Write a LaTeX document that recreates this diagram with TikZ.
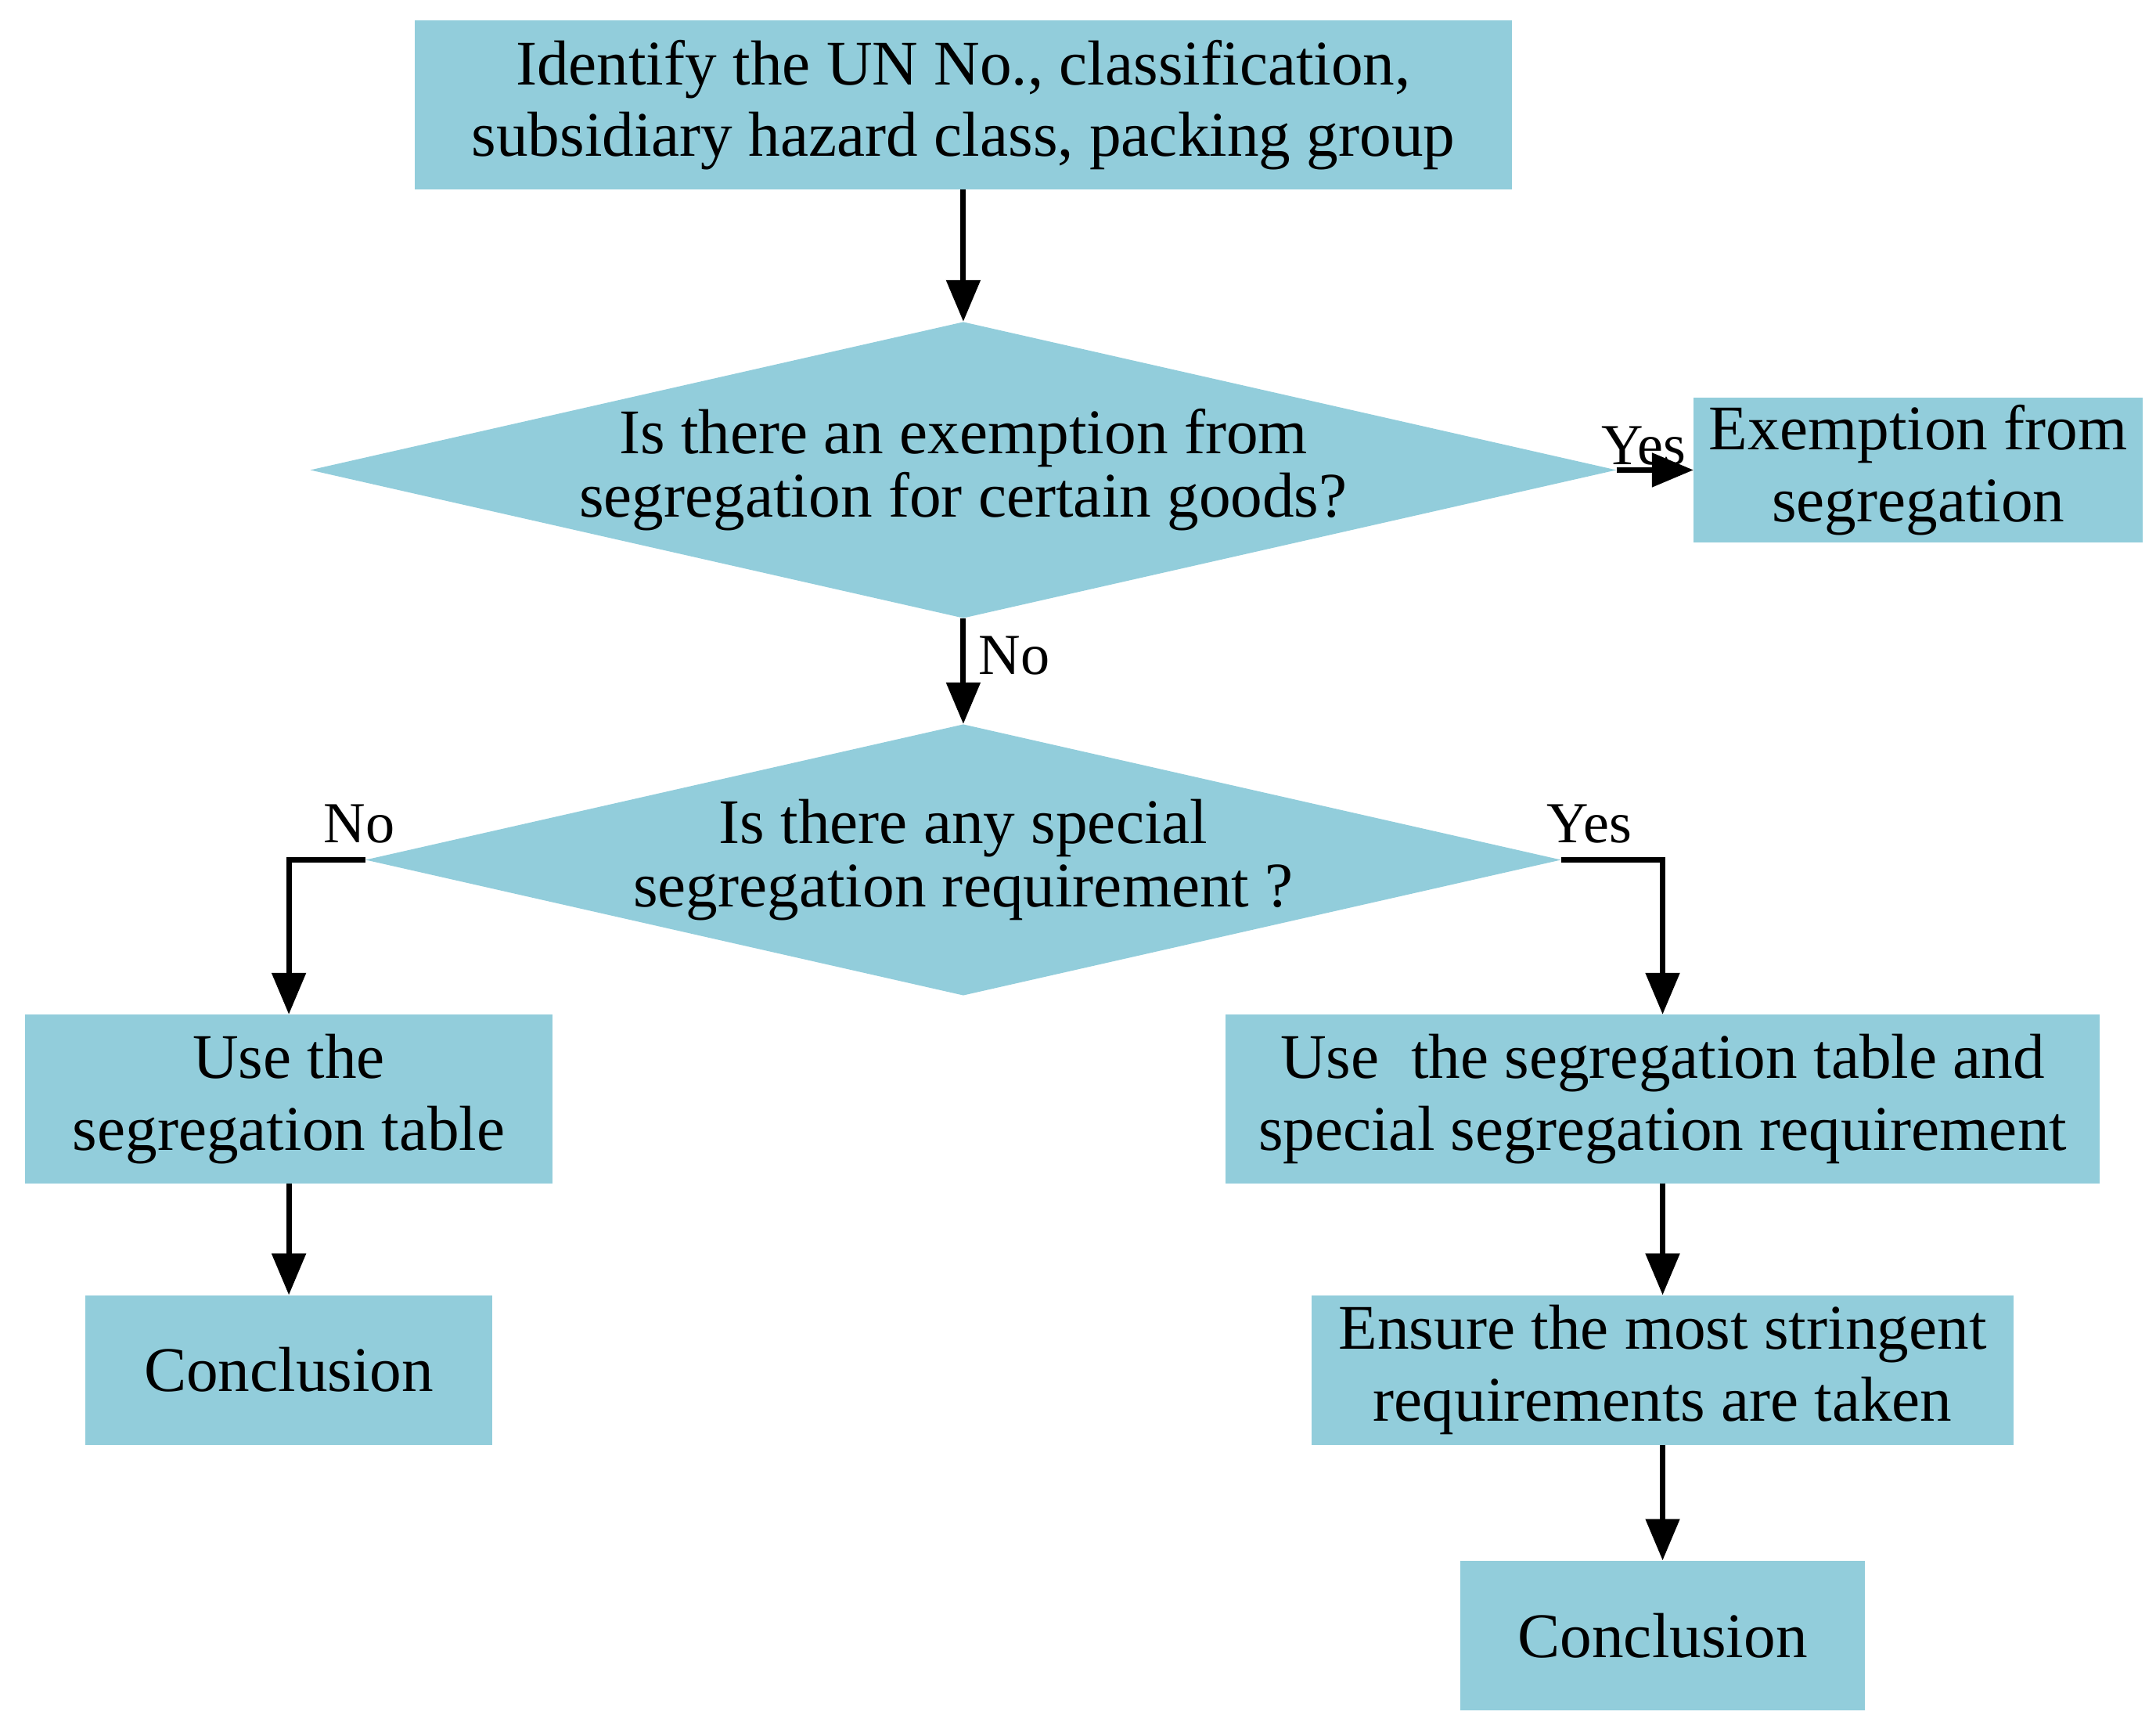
\documentclass[tikz,border=0pt]{standalone}
\usepackage{fontspec}
\setmainfont{Liberation Serif}
\usetikzlibrary{shapes.geometric,arrows.meta}
\definecolor{fill}{HTML}{92CDDB}
\begin{document}
\begin{tikzpicture}[x=1pt,y=1pt,
  box/.style={rectangle,fill=fill,inner sep=0pt,align=center,font=\fontsize{46}{52}\selectfont},
  dia/.style={diamond,fill=fill,inner sep=0pt,align=center,aspect=4.41,minimum width=794pt,minimum height=180pt,font=\fontsize{46}{46}\selectfont},
  arr/.style={line width=4pt,-{Triangle[length=30pt,width=24pt]}},
  lab/.style={font=\fontsize{42}{44}\selectfont}]
\useasboundingbox (0,0) rectangle (1560,-1248);
\node[box,minimum width=794pt,minimum height=122pt] (top) at (697,-76) {Identify the UN No., classification,\\subsidiary hazard class, packing group};
\node[dia] (d1) at (697,-340) {Is there an exemption from\\segregation for certain goods?};
\node[box,minimum width=325pt,minimum height=105pt] (ex) at (1388,-340) {Exemption from\\segregation};
\node[dia] (d2) at (697,-622) {Is there any special\\segregation requirement ?};
\node[box,minimum width=382pt,minimum height=122pt] (lb) at (209,-795) {Use the\\segregation table};
\node[box,minimum width=632pt,minimum height=122pt] (rb) at (1203,-795) {Use\ \ the segregation table and\\special segregation requirement};
\node[box,minimum width=294pt,minimum height=108pt] (c1) at (209,-991) {Conclusion};
\node[box,minimum width=508pt,minimum height=108pt] (en) at (1203,-991) {Ensure the most stringent\\requirements are taken};
\node[box,minimum width=293pt,minimum height=108pt] (c2) at (1203,-1183) {Conclusion};
\draw[arr] (top) -- (d1);
\draw[arr] (d1.east) -- (ex.west) node[lab,midway,above=-2pt,xshift=-8pt] {Yes};
\draw[arr] (d1.south) -- (d2.north) node[lab,pos=0.35,right=6pt] {No};
\draw[arr] (d2.west) -| (lb.north);
\draw[arr] (d2.east) -| (rb.north);
\node[lab] (nl) at (260,-596) {No};
\node[lab] (yr) at (1150,-596) {Yes};
\draw[arr] (lb) -- (c1);
\draw[arr] (rb) -- (en);
\draw[arr] (en) -- (c2);
\end{tikzpicture}
\end{document}
